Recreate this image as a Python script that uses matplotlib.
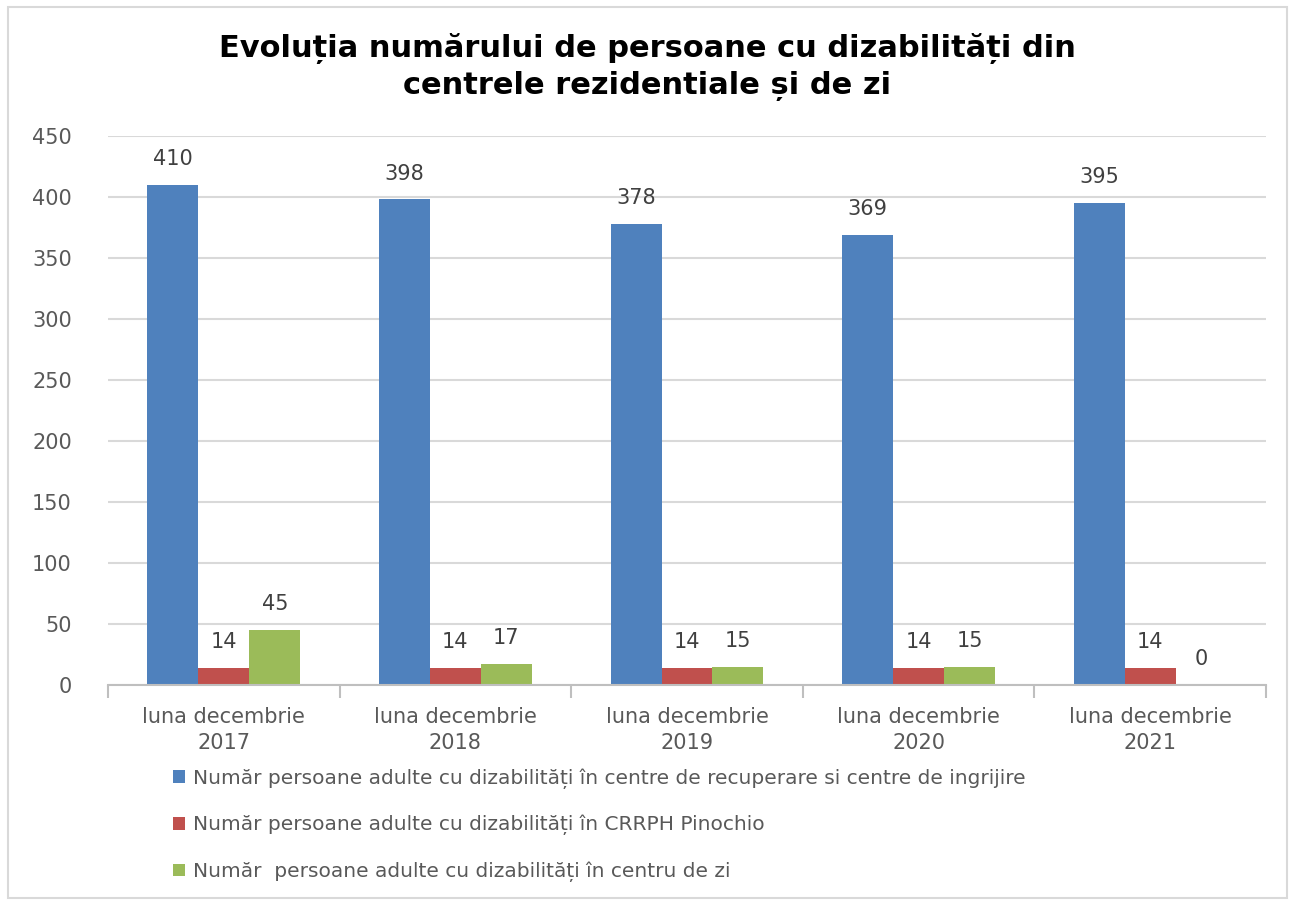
import matplotlib.pyplot as plt
import numpy as np
from matplotlib.patches import Rectangle

# date
categories = ['luna decembrie\n2017', 'luna decembrie\n2018', 'luna decembrie\n2019',
              'luna decembrie\n2020', 'luna decembrie\n2021']
centre_recuperare = [410, 398, 378, 369, 395]
crrph_pinochio = [14, 14, 14, 14, 14]
centru_zi = [45, 17, 15, 15, 0]
labels = [
    'Număr persoane adulte cu dizabilități în centre de recuperare si centre de ingrijire',
    'Număr persoane adulte cu dizabilități în CRRPH Pinochio',
    'Număr  persoane adulte cu dizabilități în centru de zi',
]
colors = ['#4f81bd', '#c0504d', '#9bbb59']

fig = plt.figure(figsize=(12.95, 9.05), dpi=100)
ax = fig.add_axes([0.0834, 0.2431, 0.8942, 0.6066])

x = np.arange(len(categories))
w = 0.22
series = [centre_recuperare, crrph_pinochio, centru_zi]
for i, vals in enumerate(series):
    bars = ax.bar(x + (i - 1) * w, vals, width=w, color=colors[i], label=labels[i])
    for b, v in zip(bars, vals):
        ax.text(b.get_x() + b.get_width() / 2, v + 13, str(v), ha='center', va='bottom',
                fontsize=15, color='#404040')

ax.set_xlim(-0.5, len(categories) - 0.5)
ax.set_ylim(0, 450)
ax.set_yticks(range(0, 451, 50))
ax.grid(axis='y', color='#d9d9d9', linewidth=1.5)
ax.set_axisbelow(True)
for s in ['top', 'right', 'left']:
    ax.spines[s].set_visible(False)
ax.spines['bottom'].set_color('#bfbfbf')
ax.spines['bottom'].set_linewidth(1.5)
ax.tick_params(axis='y', length=0, labelsize=15, labelcolor='#595959', pad=26)
ax.set_xticks(x)
ax.set_xticklabels(categories, fontsize=15, color='#595959', linespacing=1.35)
ax.tick_params(axis='x', length=0, pad=16)
# tick marks between categories
ax.set_xticks(np.arange(-0.5, len(categories), 1), minor=True)
ax.tick_params(axis='x', which='minor', length=9, width=1.5, color='#bfbfbf')

fig.suptitle('Evoluția numărului de persoane cu dizabilități din\ncentrele rezidentiale și de zi',
             fontsize=22, fontweight='bold', y=0.963, linespacing=1.3)

fig.legend(loc='upper left', bbox_to_anchor=(0.127, 0.16), frameon=False,
           fontsize=14.5, labelcolor='#595959', handlelength=0.6, handleheight=0.6,
           handletextpad=0.4, labelspacing=1.3, borderaxespad=0)

fig.patches.append(Rectangle((0.006, 0.008), 0.988, 0.984, transform=fig.transFigure,
                             fill=False, edgecolor='#d9d9d9', linewidth=1.5))

plt.savefig('out.png', dpi=100)
